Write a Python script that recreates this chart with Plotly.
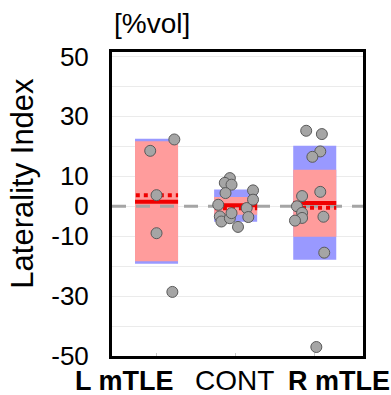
import plotly.graph_objects as go

categories = ["L mTLE", "CONT", "R mTLE"]
cat_bold = [True, False, True]

# outer (blue) and inner (red) ranges
blue_low = [-19.2, -5.2, -17.9]
blue_high = [22.5, 5.6, 20.2]
red_low = [-18.4, -2.8, -10.2]
red_high = [21.7, 3.1, 12.2]
mean_vals = [1.5, 0.3, 1.1]      # solid red line
median_vals = [3.7, -0.7, -0.5]  # dotted red line

# individual points per group (values) and horizontal jitter (category units)
L_vals = [22.3, 18.5, 3.7, -9.0, -28.6]
L_jit = [0.225, -0.08, 0.0, 0.0, 0.2]
C_vals = [9.4, 7.8, 7.2, 4.4, 0.5, -3.4, -5.1, -4.0, -2.3, -6.9, -0.6, -3.6, 5.3, 2.2]
C_jit = [-0.073, -0.137, -0.052, -0.128, -0.22, -0.2, -0.18, -0.073, -0.052, 0.03, 0.14, 0.16, 0.22, 0.22]
R_vals = [25.2, 24.1, 18.3, 16.5, 3.4, 4.8, 0.0, -2.2, -3.9, -4.8, -3.5, -15.5, -47.0]
R_jit = [-0.108, 0.09, 0.07, -0.03, -0.16, 0.07, -0.225, -0.16, -0.16, -0.25, 0.11, 0.12, 0.02]

ytick_vals = [50, 30, 10, 0, -10, -30, -50]
ytick_text = ["50", "30", "10", "0", "-10", "-30", "-50"]
x_range = [-0.563, 2.61]

BOX_W = 0.544
FONT = "Arial, Liberation Sans, sans-serif"
xs = list(range(len(categories)))

fig = go.Figure()
# dashed zero reference line (beneath boxes)
fig.add_trace(go.Scatter(x=x_range, y=[0, 0], mode="lines",
                         line=dict(color="rgb(165,165,165)", width=3, dash="14px,10px"),
                         hoverinfo="skip"))
fig.add_trace(go.Bar(x=xs, base=blue_low, y=[h - l for h, l in zip(blue_high, blue_low)],
                     width=BOX_W, marker=dict(color="rgb(153,153,255)", line=dict(width=0)),
                     hoverinfo="skip"))
fig.add_trace(go.Bar(x=xs, base=red_low, y=[h - l for h, l in zip(red_high, red_low)],
                     width=BOX_W, marker=dict(color="rgb(255,156,156)", line=dict(width=0)),
                     hoverinfo="skip"))
for i in xs:
    fig.add_trace(go.Scatter(x=[i - BOX_W / 2, i + BOX_W / 2], y=[mean_vals[i]] * 2, mode="lines",
                             line=dict(color="rgb(240,0,0)", width=4)))
    fig.add_trace(go.Scatter(x=[i - BOX_W / 2 + 0.01, i + BOX_W / 2], y=[median_vals[i]] * 2, mode="lines",
                             line=dict(color="rgb(240,0,0)", width=4, dash="dot")))

for i, (vals, jit) in enumerate([(L_vals, L_jit), (C_vals, C_jit), (R_vals, R_jit)]):
    fig.add_trace(go.Scatter(x=[i + j for j in jit], y=vals, mode="markers",
                             marker=dict(size=11, color="rgb(165,165,165)",
                                         line=dict(color="rgb(90,90,90)", width=1)),
                             cliponaxis=False))

annotations = []
shifts = [-32, -1, 24]
ysh = [-8, -7, -8]
sizes = [27, 28, 27]
for i, c in enumerate(categories):
    txt = f"<b>{c}</b>" if cat_bold[i] else c
    annotations.append(dict(x=i, xref="x", y=0, yref="paper", yanchor="top", xanchor="center",
                            xshift=shifts[i], yshift=ysh[i], text=txt, showarrow=False,
                            font=dict(family=FONT, size=sizes[i], color="black")))
annotations.append(dict(x=0, xref="paper", y=1, yref="paper", xanchor="left", yanchor="bottom",
                        yshift=11, text="[%vol]", showarrow=False,
                        font=dict(family=FONT, size=28, color="black")))
annotations.append(dict(x=0, xref="paper", y=0.567, yref="paper", xanchor="center", yanchor="middle",
                        xshift=-89, text="Laterality Index", textangle=-90, showarrow=False,
                        font=dict(family=FONT, size=31, color="black")))

fig.update_layout(
    width=391, height=395, margin=dict(l=112, r=28, t=52, b=39),
    paper_bgcolor="white", plot_bgcolor="white", showlegend=False, barmode="overlay",
    font=dict(family=FONT, color="black"),
    annotations=annotations,
    xaxis=dict(range=x_range, tickvals=xs, ticktext=["", "", ""], showgrid=False,
               zeroline=False, showline=True, mirror=True, linecolor="black", linewidth=3,
               ticks="inside", ticklen=3, tickcolor="rgb(200,200,200)", tickwidth=1),
    yaxis=dict(range=[-50, 51.5], tickvals=ytick_vals, ticktext=ytick_text, showgrid=True,
               gridcolor="rgb(235,235,235)",
               gridwidth=1, zeroline=False, showline=True, mirror=True, linecolor="black",
               linewidth=3, ticks="", tickfont=dict(family=FONT, size=26, color="black"),
               ticklabelstandoff=15,
               minor=dict(tickmode="linear", tick0=0, dtick=10, showgrid=True,
                          gridcolor="rgb(235,235,235)", gridwidth=1)),
)

fig.write_html("out.html")
